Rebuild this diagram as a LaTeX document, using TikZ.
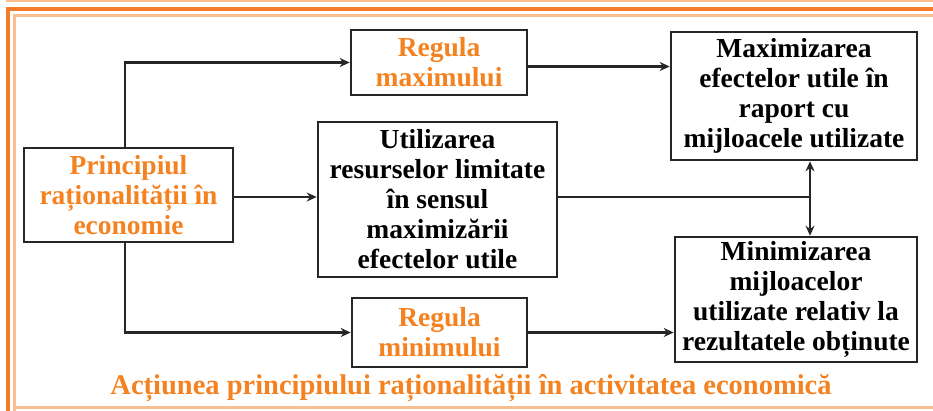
\documentclass[tikz,border=0pt]{standalone}
\usepackage{fontspec}
\setmainfont{Liberation Serif}
\usetikzlibrary{arrows.meta}

\definecolor{textorange}{RGB}{245,130,32}
\definecolor{frameorange}{RGB}{244,123,42}
\definecolor{lightorange}{RGB}{251,190,142}

\tikzset{
  box/.style={draw=black!85, line width=2.6pt, align=center, inner sep=0pt,
    font=\bfseries\fontsize{27.5}{30}\selectfont},
  rulebox/.style={box, text=textorange},
  arr/.style={line width=2.6pt, draw=black!85, -{Stealth[length=10pt,width=9pt]}},
  dblarr/.style={line width=2.6pt, draw=black!85, {Stealth[length=10pt,width=9pt]}-{Stealth[length=10pt,width=9pt]}}
}

\begin{document}
\begin{tikzpicture}[x=1pt, y=-1pt]
                \useasboundingbox (0,0) rectangle (933,410);
                \clip (0,0) rectangle (933,410);

                % frame
                \draw[lightorange, line width=2.5pt] (6,1) -- (940,1);
                \draw[frameorange, line width=4pt] (7.5,420) -- (7.5,8.5) -- (940,8.5);
                \draw[lightorange, line width=3pt] (14.5,420) -- (14.5,15.5) -- (940,15.5);
                \draw[lightorange, line width=3pt] (14.5,407.5) -- (940,407.5);

                % boxes
                \node[rulebox, minimum width=209pt, minimum height=94pt] (princ) at (128.5,195) {Principiul\\raționalității în\\economie};
                \node[rulebox, minimum width=176pt, minimum height=65pt] (regmax) at (439,62.5) {Regula\\maximului};
                \node[rulebox, minimum width=175pt, minimum height=69pt] (regmin) at (439.5,332.5) {Regula\\minimului};
                \node[box, minimum width=239pt, minimum height=155pt] (util) at (437.5,199.5) {Utilizarea\\resurselor limitate\\în sensul\\maximizării\\efectelor utile};
                \node[box, minimum width=246pt, minimum height=128pt] (maxim) at (794,96) {Maximizarea\\efectelor utile în\\raport cu\\mijloacele utilizate};
                \node[box, minimum width=242pt, minimum height=125pt] (minim) at (796,299.5) {Minimizarea\\mijloacelor\\utilizate relativ la\\rezultatele obținute};

                \node[text=textorange, font=\bfseries\fontsize{28.5}{30}\selectfont] (caption) at (471,388) {Acțiunea principiului raționalității în activitatea economică};

                % connectors
                \coordinate (join) at (810,197);
                \draw[arr] ([xshift=-3.5pt]princ.north) |- (regmax.west);
                \draw[arr] ([xshift=-3.5pt]princ.south) |- (regmin.west);
                \draw[arr] ([yshift=-2pt]princ.east) -- ([yshift=-2pt]princ.east -| util.west);
                \draw[arr] ([yshift=-4pt]regmax.east) -- ([yshift=-4pt]regmax.east -| maxim.west);
                \draw[arr] (regmin.east) -- (regmin.east -| minim.west);
                \draw[line width=2.6pt, draw=black!85] (util.east |- join) -- (join);
                \draw[dblarr] (maxim.south -| join) -- (minim.north -| join);
\end{tikzpicture}
\end{document}
